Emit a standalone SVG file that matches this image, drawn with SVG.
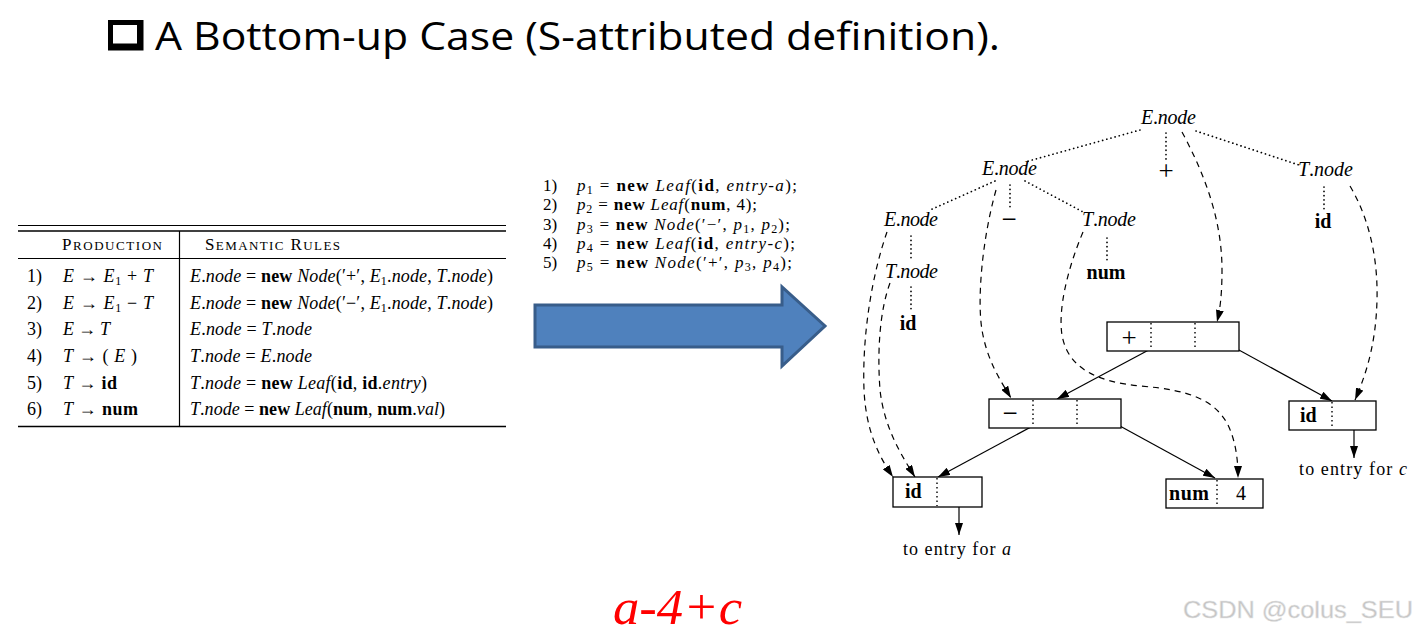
<svg xmlns="http://www.w3.org/2000/svg" width="1418" height="634" viewBox="0 0 1418 634">
<style>
.t{font-family:"Liberation Serif","DejaVu Serif",serif;fill:#000}
.i{font-style:italic}
.b{font-weight:bold}
.row{font-size:18px}
.code{font-size:17px}
.lbl{font-size:20px}
.op{font-size:27px}
.dot{fill:none;stroke:#000;stroke-width:1.7;stroke-dasharray:0.1 4.2;stroke-linecap:round}
.dash{fill:none;stroke:#000;stroke-width:1.2;stroke-dasharray:6 5}
.sol{fill:none;stroke:#000;stroke-width:1.2}
.box{fill:#fff;stroke:#000;stroke-width:1.3}
.dv{stroke:#000;stroke-width:1.4;stroke-dasharray:1.5 3}
.rule{stroke:#000}
</style>
<defs>
<marker id="ah" viewBox="0 0 12 8" refX="12" refY="4" markerWidth="12" markerHeight="8" markerUnits="userSpaceOnUse" orient="auto"><path d="M0,0 L12,4 L0,8 z" fill="#000"/></marker>
</defs>
<rect width="1418" height="634" fill="#fff"/>

<g id="title">
<path d="M108,20 H143.5 V50.5 H108 Z M113,25 V43.5 H137 V25 Z" fill="#000" fill-rule="evenodd"/>
<text x="155" y="49.5" font-family="'Open Sans',Lato,sans-serif" font-size="38" textLength="845" lengthAdjust="spacingAndGlyphs" fill="#000">A Bottom-up Case (S-attributed definition).</text>
</g>

<g id="table" class="t">
<line class="rule" x1="18" y1="225.5" x2="506" y2="225.5" stroke-width="1.2"/>
<line class="rule" x1="18" y1="231" x2="506" y2="231" stroke-width="1.6"/>
<line class="rule" x1="18" y1="258.5" x2="506" y2="258.5" stroke-width="1"/>
<line class="rule" x1="18" y1="426.5" x2="506" y2="426.5" stroke-width="1.5"/>
<line class="rule" x1="179.5" y1="231" x2="179.5" y2="426.5" stroke-width="1.2"/>
<text x="62" y="250" font-size="17" textLength="100">P<tspan font-size="13">RODUCTION</tspan></text>
<text x="205" y="250" font-size="17" textLength="135">S<tspan font-size="13">EMANTIC</tspan> R<tspan font-size="13">ULES</tspan></text>
<g class="row">
<text x="27" y="282">1)</text>
<text x="27" y="308.5">2)</text>
<text x="27" y="335">3)</text>
<text x="27" y="362">4)</text>
<text x="27" y="388.5">5)</text>
<text x="27" y="415">6)</text>
<text x="63" y="282" textLength="90"><tspan class="i">E</tspan> → <tspan class="i">E</tspan><tspan font-size="12" dy="3">1</tspan><tspan dy="-3"> + </tspan><tspan class="i">T</tspan></text>
<text x="63" y="308.5" textLength="90"><tspan class="i">E</tspan> → <tspan class="i">E</tspan><tspan font-size="12" dy="3">1</tspan><tspan dy="-3"> − </tspan><tspan class="i">T</tspan></text>
<text x="63" y="335" textLength="47"><tspan class="i">E</tspan> → <tspan class="i">T</tspan></text>
<text x="63" y="362" textLength="74"><tspan class="i">T</tspan> → ( <tspan class="i">E</tspan> )</text>
<text x="63" y="388.5" textLength="54"><tspan class="i">T</tspan> → <tspan class="b">id</tspan></text>
<text x="63" y="415" textLength="75"><tspan class="i">T</tspan> → <tspan class="b">num</tspan></text>
<text x="190" y="282" textLength="303"><tspan class="i">E</tspan>.<tspan class="i">node</tspan> = <tspan class="b">new</tspan> <tspan class="i">Node</tspan>(′+′, <tspan class="i">E</tspan><tspan font-size="12" dy="3">1</tspan><tspan dy="-3">.</tspan><tspan class="i">node</tspan>, <tspan class="i">T</tspan>.<tspan class="i">node</tspan>)</text>
<text x="190" y="308.5" textLength="303"><tspan class="i">E</tspan>.<tspan class="i">node</tspan> = <tspan class="b">new</tspan> <tspan class="i">Node</tspan>(′−′, <tspan class="i">E</tspan><tspan font-size="12" dy="3">1</tspan><tspan dy="-3">.</tspan><tspan class="i">node</tspan>, <tspan class="i">T</tspan>.<tspan class="i">node</tspan>)</text>
<text x="190" y="335" textLength="122"><tspan class="i">E</tspan>.<tspan class="i">node</tspan> = <tspan class="i">T</tspan>.<tspan class="i">node</tspan></text>
<text x="190" y="362" textLength="122"><tspan class="i">T</tspan>.<tspan class="i">node</tspan> = <tspan class="i">E</tspan>.<tspan class="i">node</tspan></text>
<text x="190" y="388.5" textLength="237"><tspan class="i">T</tspan>.<tspan class="i">node</tspan> = <tspan class="b">new</tspan> <tspan class="i">Leaf</tspan>(<tspan class="b">id</tspan>, <tspan class="b">id</tspan>.<tspan class="i">entry</tspan>)</text>
<text x="190" y="415" textLength="255"><tspan class="i">T</tspan>.<tspan class="i">node</tspan> = <tspan class="b">new</tspan> <tspan class="i">Leaf</tspan>(<tspan class="b">num</tspan>, <tspan class="b">num</tspan>.<tspan class="i">val</tspan>)</text>
</g>
</g>

<g id="code" class="t code">
<text x="543" y="191">1)</text>
<text x="543" y="210">2)</text>
<text x="543" y="229.5">3)</text>
<text x="543" y="249">4)</text>
<text x="543" y="268">5)</text>
<text x="577" y="191" textLength="220"><tspan class="i">p</tspan><tspan font-size="12" dy="3">1</tspan><tspan dy="-3"> = </tspan><tspan class="b">new</tspan> <tspan class="i">Leaf</tspan>(<tspan class="b">id</tspan>, <tspan class="i">entry-a</tspan>);</text>
<text x="577" y="210" textLength="180"><tspan class="i">p</tspan><tspan font-size="12" dy="3">2</tspan><tspan dy="-3"> = </tspan><tspan class="b">new</tspan> <tspan class="i">Leaf</tspan>(<tspan class="b">num</tspan>, 4);</text>
<text x="577" y="229.5" textLength="213"><tspan class="i">p</tspan><tspan font-size="12" dy="3">3</tspan><tspan dy="-3"> = </tspan><tspan class="b">new</tspan> <tspan class="i">Node</tspan>(′−′, <tspan class="i">p</tspan><tspan font-size="12" dy="3">1</tspan><tspan dy="-3">, </tspan><tspan class="i">p</tspan><tspan font-size="12" dy="3">2</tspan><tspan dy="-3">);</tspan></text>
<text x="577" y="249" textLength="218"><tspan class="i">p</tspan><tspan font-size="12" dy="3">4</tspan><tspan dy="-3"> = </tspan><tspan class="b">new</tspan> <tspan class="i">Leaf</tspan>(<tspan class="b">id</tspan>, <tspan class="i">entry-c</tspan>);</text>
<text x="577" y="268" textLength="215"><tspan class="i">p</tspan><tspan font-size="12" dy="3">5</tspan><tspan dy="-3"> = </tspan><tspan class="b">new</tspan> <tspan class="i">Node</tspan>(′+′, <tspan class="i">p</tspan><tspan font-size="12" dy="3">3</tspan><tspan dy="-3">, </tspan><tspan class="i">p</tspan><tspan font-size="12" dy="3">4</tspan><tspan dy="-3">);</tspan></text>
</g>

<g id="bigArrow">
<polygon points="535,305 782,305 782,287 825,326 782,366 782,347 535,347" fill="#4F81BD" stroke="#385D8A" stroke-width="3" stroke-linejoin="miter"/>
</g>

<g id="connectors">
<path class="dot" d="M1140,130 L1025,162"/>
<path class="dot" d="M1166,133 L1166,159"/>
<path class="dot" d="M1196,131 L1302,166"/>
<path class="dot" d="M995,181 L930,210"/>
<path class="dot" d="M1010,185 L1010,208"/>
<path class="dot" d="M1025,181 L1085,213"/>
<path class="dot" d="M1324,187 L1324,210"/>
<path class="dot" d="M911,236 L911,260"/>
<path class="dot" d="M1107,238 L1107,262"/>
<path class="dot" d="M911,287 L911,310"/>
<path class="dash" marker-end="url(#ah)" d="M887,232 C872,275 862,335 864,390 C866,430 878,455 893,477"/>
<path class="dash" marker-end="url(#ah)" d="M890,283 C880,310 877,350 880,390 C884,425 898,450 915,477"/>
<path class="dash" marker-end="url(#ah)" d="M996,190 C982,240 977,300 982,330 C987,360 1000,380 1011,398"/>
<path class="dash" marker-end="url(#ah)" d="M1083,232 C1067,270 1058,310 1062,335 C1068,370 1100,382 1140,386 C1190,390 1215,400 1228,425 C1236,442 1238,460 1238,478"/>
<path class="dash" marker-end="url(#ah)" d="M1182,132 C1205,175 1222,220 1222,270 C1222,295 1220,310 1217,322"/>
<path class="dash" marker-end="url(#ah)" d="M1350,186 C1370,220 1378,260 1377,300 C1376,340 1368,370 1355,400"/>
<path class="sol" marker-end="url(#ah)" d="M1173,337 L1057,399"/>
<path class="sol" marker-end="url(#ah)" d="M1217,338 L1332,401"/>
<path class="sol" marker-end="url(#ah)" d="M1055,414 L938,477"/>
<path class="sol" marker-end="url(#ah)" d="M1098,414 L1215,478"/>
<path class="sol" marker-end="url(#ah)" d="M1354,415 L1354,458"/>
<path class="sol" marker-end="url(#ah)" d="M959,492 L959,535"/>
</g>

<g id="tree" class="t lbl">
<g id="n-root"><text x="1141" y="124" textLength="55"><tspan class="i">E</tspan>.<tspan class="i">node</tspan></text></g>
<g id="n-E2"><text x="982" y="175" textLength="55"><tspan class="i">E</tspan>.<tspan class="i">node</tspan></text></g>
<g id="n-plus"><text x="1166" y="180" text-anchor="middle" class="op">+</text></g>
<g id="n-T2"><text x="1298" y="176" textLength="55"><tspan class="i">T</tspan>.<tspan class="i">node</tspan></text></g>
<g id="n-E3"><text x="884" y="226" textLength="54"><tspan class="i">E</tspan>.<tspan class="i">node</tspan></text></g>
<g id="n-minus"><text x="1009" y="228" text-anchor="middle" class="op">−</text></g>
<g id="n-T3"><text x="1082" y="226" textLength="54"><tspan class="i">T</tspan>.<tspan class="i">node</tspan></text></g>
<g id="n-id3"><text x="1323" y="228" text-anchor="middle" class="b">id</text></g>
<g id="n-T4"><text x="885" y="278" textLength="53"><tspan class="i">T</tspan>.<tspan class="i">node</tspan></text></g>
<g id="n-num"><text x="1106" y="279" text-anchor="middle" class="b" textLength="39">num</text></g>
<g id="n-id5"><text x="908" y="330" text-anchor="middle" class="b">id</text></g>
</g>

<g id="records" class="t lbl">
<g id="r-plus">
<rect class="box" x="1107" y="322" width="132" height="29"/>
<line class="dv" x1="1151" y1="323" x2="1151" y2="350"/>
<line class="dv" x1="1195" y1="323" x2="1195" y2="350"/>
<text x="1129" y="347" text-anchor="middle" class="op">+</text>
</g>
<g id="r-minus">
<rect class="box" x="989" y="399" width="132" height="29"/>
<line class="dv" x1="1033" y1="400" x2="1033" y2="427"/>
<line class="dv" x1="1077" y1="400" x2="1077" y2="427"/>
<text x="1010" y="422" text-anchor="middle" class="op">−</text>
</g>
<g id="r-idc">
<rect class="box" x="1289" y="401" width="87" height="29"/>
<line class="dv" x1="1332" y1="402" x2="1332" y2="429"/>
<text x="1300" y="422" class="b">id</text>
<text x="1299" y="475" font-size="18" textLength="108">to entry for <tspan class="i">c</tspan></text>
</g>
<g id="r-ida">
<rect class="box" x="893" y="477" width="89" height="30"/>
<line class="dv" x1="937" y1="478" x2="937" y2="506"/>
<text x="905" y="498" class="b">id</text>
<text x="903" y="555" font-size="18" textLength="108">to entry for <tspan class="i">a</tspan></text>
</g>
<g id="r-num">
<rect class="box" x="1166" y="479" width="97" height="29"/>
<line class="dv" x1="1217" y1="480" x2="1217" y2="507"/>
<text x="1169" y="500" class="b" textLength="40">num</text>
<text x="1236" y="500">4</text>
</g>
</g>

<g id="expr">
<text x="613" y="624" font-family="'Liberation Serif',serif" font-style="italic" font-size="50" fill="#ff0000" textLength="129" lengthAdjust="spacingAndGlyphs">a-4+c</text>
</g>
<g id="watermark">
<text x="1183" y="618" font-family="'Liberation Sans',Arial,sans-serif" font-size="24" fill="#c4c4c4" stroke="#e6e6e6" stroke-width="0.5" textLength="230" lengthAdjust="spacingAndGlyphs">CSDN @colus_SEU</text>
</g>
</svg>
